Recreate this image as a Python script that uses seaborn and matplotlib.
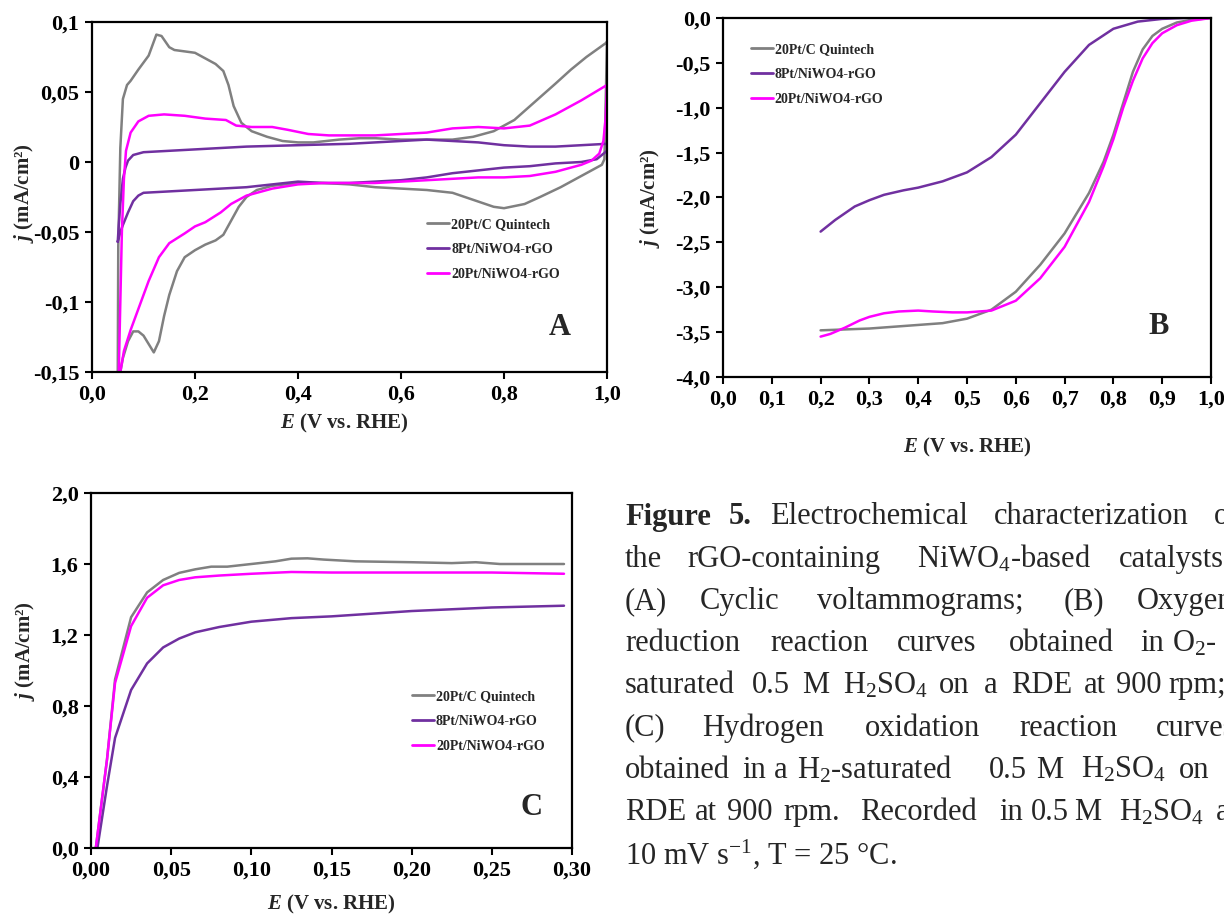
import numpy as np
import pandas as pd
import matplotlib
matplotlib.use("Agg")
import matplotlib.pyplot as plt
import seaborn as sns

# ---------------- data ----------------
series_names = ["20Pt/C Quintech", "8Pt/NiWO4-rGO", "20Pt/NiWO4-rGO"]
series_colors = ["#808080", "#7030A0", "#FF00FF"]

# Panel A: cyclic voltammograms (anodic branch then cathodic branch)
cv_gray_x = [0.05, 0.051, 0.055, 0.06, 0.068, 0.075, 0.09, 0.11, 0.125, 0.135, 0.15, 0.16, 0.18, 0.2, 0.22, 0.24,
             0.255, 0.265, 0.275, 0.29, 0.31, 0.34, 0.37, 0.4, 0.43, 0.48, 0.52, 0.55, 0.6, 0.65, 0.7, 0.74,
             0.78, 0.82, 0.86, 0.9, 0.93, 0.96, 0.998, 1.0,
             0.995, 0.99, 0.97, 0.94, 0.91, 0.87, 0.84, 0.8, 0.78, 0.74, 0.7, 0.65, 0.6, 0.55, 0.5, 0.45, 0.4,
             0.35, 0.32, 0.3, 0.285, 0.27, 0.255, 0.24, 0.22, 0.2, 0.18, 0.165, 0.15, 0.14, 0.13, 0.12, 0.11,
             0.1, 0.09, 0.08, 0.07, 0.06, 0.055]
cv_gray_y = [-0.15, -0.06, 0.01, 0.045, 0.055, 0.058, 0.066, 0.076, 0.091, 0.090, 0.082, 0.080, 0.079, 0.078, 0.074, 0.070,
             0.065, 0.055, 0.040, 0.028, 0.022, 0.018, 0.015, 0.014, 0.014, 0.016, 0.017, 0.017, 0.016, 0.016, 0.016, 0.018,
             0.022, 0.030, 0.043, 0.056, 0.066, 0.075, 0.085, 0.086,
             0.002, -0.002, -0.006, -0.012, -0.018, -0.025, -0.030, -0.033, -0.032, -0.027, -0.022, -0.020, -0.019, -0.018, -0.016, -0.015, -0.015,
             -0.017, -0.020, -0.025, -0.032, -0.042, -0.052, -0.056, -0.059, -0.063, -0.068, -0.078, -0.095, -0.110, -0.128, -0.136, -0.130,
             -0.124, -0.121, -0.121, -0.128, -0.140, -0.150]

cv_purple_x = [0.05, 0.052, 0.055, 0.06, 0.065, 0.07, 0.08, 0.1, 0.15, 0.2, 0.3, 0.4, 0.5, 0.6, 0.65, 0.7, 0.75, 0.8,
               0.85, 0.9, 0.95, 1.0,
               1.0, 0.98, 0.95, 0.9, 0.85, 0.8, 0.75, 0.7, 0.65, 0.6, 0.55, 0.5, 0.45, 0.4, 0.35, 0.3, 0.25, 0.2,
               0.15, 0.1, 0.09, 0.08, 0.07, 0.06, 0.055, 0.05]
cv_purple_y = [-0.057, -0.045, -0.030, -0.012, -0.004, 0.001, 0.005, 0.007, 0.008, 0.009, 0.011, 0.012, 0.013, 0.015, 0.016, 0.015, 0.014, 0.012,
               0.011, 0.011, 0.012, 0.013,
               0.008, 0.002, 0.000, -0.001, -0.003, -0.004, -0.006, -0.008, -0.011, -0.013, -0.014, -0.015, -0.015, -0.014, -0.016, -0.018, -0.019, -0.020,
               -0.021, -0.022, -0.024, -0.028, -0.036, -0.045, -0.050, -0.057]

cv_magenta_x = [0.052, 0.055, 0.058, 0.062, 0.066, 0.075, 0.09, 0.11, 0.14, 0.18, 0.22, 0.26, 0.28, 0.31, 0.35, 0.38,
                0.42, 0.46, 0.5, 0.55, 0.6, 0.65, 0.7, 0.75, 0.8, 0.85, 0.9, 0.95, 1.0,
                0.997, 0.993, 0.985, 0.97, 0.95, 0.93, 0.9, 0.85, 0.8, 0.75, 0.7, 0.65, 0.6, 0.55, 0.5, 0.45, 0.4,
                0.35, 0.3, 0.27, 0.25, 0.22, 0.2, 0.18, 0.15, 0.13, 0.11, 0.09, 0.075, 0.062, 0.055]
cv_magenta_y = [-0.150, -0.100, -0.050, -0.012, 0.008, 0.021, 0.029, 0.033, 0.034, 0.033, 0.031, 0.030, 0.026, 0.025, 0.025, 0.023,
                0.020, 0.019, 0.019, 0.019, 0.020, 0.021, 0.024, 0.025, 0.024, 0.026, 0.034, 0.044, 0.055,
                0.030, 0.015, 0.006, 0.001, -0.002, -0.004, -0.007, -0.010, -0.011, -0.011, -0.012, -0.013, -0.014, -0.015, -0.015, -0.015, -0.016,
                -0.019, -0.024, -0.030, -0.036, -0.043, -0.046, -0.051, -0.058, -0.068, -0.085, -0.105, -0.120, -0.135, -0.150]

# Panel B: ORR polarisation curves
orr_gray_x = [0.2, 0.25, 0.3, 0.35, 0.4, 0.45, 0.5, 0.55, 0.6, 0.65, 0.7, 0.75, 0.78, 0.8, 0.82, 0.84, 0.86, 0.88, 0.9,
              0.93, 0.96, 1.0]
orr_gray_y = [-3.48, -3.47, -3.46, -3.44, -3.42, -3.40, -3.35, -3.25, -3.05, -2.75, -2.40, -1.95, -1.60, -1.30, -0.95, -0.60,
              -0.35, -0.20, -0.12, -0.05, -0.02, 0.0]
orr_purple_x = [0.2, 0.23, 0.27, 0.3, 0.33, 0.37, 0.4, 0.45, 0.5, 0.55, 0.6, 0.65, 0.7, 0.75, 0.8, 0.85, 0.9, 0.95, 1.0]
orr_purple_y = [-2.38, -2.25, -2.10, -2.03, -1.97, -1.92, -1.89, -1.82, -1.72, -1.55, -1.30, -0.95, -0.60, -0.30, -0.12,
                -0.04, -0.01, 0.0, 0.0]
orr_magenta_x = [0.2, 0.22, 0.25, 0.28, 0.3, 0.33, 0.36, 0.4, 0.43, 0.47, 0.5, 0.55, 0.6, 0.65, 0.7, 0.75, 0.78, 0.8, 0.82,
                 0.84, 0.86, 0.88, 0.9, 0.93, 0.96, 1.0]
orr_magenta_y = [-3.55, -3.52, -3.45, -3.37, -3.33, -3.29, -3.27, -3.26, -3.27, -3.28, -3.28, -3.26, -3.15, -2.90, -2.55,
                 -2.05, -1.65, -1.35, -1.00, -0.70, -0.45, -0.28, -0.17, -0.08, -0.03, 0.0]

# Panel C: HOR curves
hor_gray_x = [0.003, 0.01, 0.015, 0.025, 0.035, 0.045, 0.055, 0.065, 0.075, 0.085, 0.1, 0.115, 0.125, 0.135, 0.145, 0.165,
              0.2, 0.225, 0.24, 0.255, 0.295]
hor_gray_y = [0.0, 0.5, 0.95, 1.30, 1.44, 1.51, 1.55, 1.57, 1.585, 1.585, 1.60, 1.615, 1.63, 1.632, 1.625, 1.615,
              1.61, 1.605, 1.61, 1.60, 1.60]
hor_purple_x = [0.004, 0.01, 0.015, 0.025, 0.035, 0.045, 0.055, 0.065, 0.08, 0.1, 0.125, 0.15, 0.175, 0.2, 0.225, 0.25, 0.295]
hor_purple_y = [0.0, 0.35, 0.62, 0.89, 1.04, 1.13, 1.18, 1.215, 1.245, 1.275, 1.295, 1.305, 1.32, 1.335, 1.345, 1.355, 1.365]
hor_magenta_x = [0.003, 0.01, 0.015, 0.025, 0.035, 0.045, 0.055, 0.065, 0.08, 0.1, 0.125, 0.15, 0.2, 0.25, 0.295]
hor_magenta_y = [0.0, 0.5, 0.93, 1.25, 1.41, 1.48, 1.51, 1.525, 1.535, 1.545, 1.555, 1.552, 1.552, 1.552, 1.545]

# tick values / labels
a_xticks = [0.0, 0.2, 0.4, 0.6, 0.8, 1.0]
a_xlabels = ["0,0", "0,2", "0,4", "0,6", "0,8", "1,0"]
a_yticks = [-0.15, -0.10, -0.05, 0.0, 0.05, 0.10]
a_ylabels = ["-0,15", "-0,1", "-0,05", "0", "0,05", "0,1"]
b_xticks = [0.0, 0.1, 0.2, 0.3, 0.4, 0.5, 0.6, 0.7, 0.8, 0.9, 1.0]
b_xlabels = ["0,0", "0,1", "0,2", "0,3", "0,4", "0,5", "0,6", "0,7", "0,8", "0,9", "1,0"]
b_yticks = [-4.0, -3.5, -3.0, -2.5, -2.0, -1.5, -1.0, -0.5, 0.0]
b_ylabels = ["-4,0", "-3,5", "-3,0", "-2,5", "-2,0", "-1,5", "-1,0", "-0,5", "0,0"]
c_xticks = [0.0, 0.05, 0.10, 0.15, 0.20, 0.25, 0.30]
c_xlabels = ["0,00", "0,05", "0,10", "0,15", "0,20", "0,25", "0,30"]
c_yticks = [0.0, 0.4, 0.8, 1.2, 1.6, 2.0]
c_ylabels = ["0,0", "0,4", "0,8", "1,2", "1,6", "2,0"]

# ---------------- style ----------------
sns.set_theme(style="ticks")
plt.rcParams["font.family"] = ["Liberation Serif", "DejaVu Serif"]
plt.rcParams["mathtext.fontset"] = "custom"
plt.rcParams["mathtext.rm"] = "Liberation Serif"
plt.rcParams["mathtext.it"] = "Liberation Serif:italic"
plt.rcParams["mathtext.bf"] = "Liberation Serif:bold"
plt.rcParams["mathtext.bfit"] = "Liberation Serif:italic:bold"

W, H = 1224, 914
fig = plt.figure(figsize=(W / 100, H / 100), dpi=100)
fig.patch.set_facecolor("white")


def px_axes(l, t, r, b):
    return fig.add_axes([l / W, 1 - b / H, (r - l) / W, (b - t) / H])


def make_df(xs, ys):
    rows = []
    for name, x, y in zip(series_names, xs, ys):
        for i, (xx, yy) in enumerate(zip(x, y)):
            rows.append({"E": xx, "j": yy, "series": name, "order": i})
    return pd.DataFrame(rows)


palette = dict(zip(series_names, series_colors))
tick_font = dict(family="Liberation Serif", weight="bold", size=16)


def style_axes(ax, xt, xl, yt, yl, xlim, ylim):
    ax.set_xlim(*xlim)
    ax.set_ylim(*ylim)
    ax.set_xticks(xt)
    ax.set_xticklabels(xl, fontdict=tick_font)
    ax.set_yticks(yt)
    ax.set_yticklabels(yl, fontdict=tick_font)
    for s in ax.spines.values():
        s.set_visible(True)
        s.set_linewidth(1.6)
        s.set_color("black")
    ax.tick_params(direction="out", length=5, width=1.5, colors="black", pad=4)
    ax.set_facecolor("white")


def draw(ax, xs, ys):
    df = make_df(xs, ys)
    sns.lineplot(data=df, x="E", y="j", hue="series", hue_order=series_names, palette=palette,
                 sort=False, estimator=None, units="series", lw=1.8, ax=ax, legend=True)


def labels(ax, xpos, ypos):
    ax.set_xlabel(r"$\mathbfit{E}$ (V vs. RHE)", fontsize=15, fontweight="bold", va="center")
    ax.set_ylabel(r"$\mathbfit{j}$ (mA/cm²)", fontsize=15, fontweight="bold", va="center")
    ax.xaxis.set_label_coords(*xpos)
    ax.yaxis.set_label_coords(*ypos)


def legend(ax, anchor):
    leg = ax.legend(loc="upper left", bbox_to_anchor=anchor, frameon=False,
                    prop=dict(family="Liberation Serif", weight="bold", size=10),
                    handlelength=1.6, handletextpad=0.15, labelspacing=0.85, borderaxespad=0)
    for ln in leg.get_lines():
        ln.set_linewidth(2.0)


# Panel A
axA = px_axes(92, 22, 607, 372)
draw(axA, [cv_gray_x, cv_purple_x, cv_magenta_x], [cv_gray_y, cv_purple_y, cv_magenta_y])
style_axes(axA, a_xticks, a_xlabels, a_yticks, a_ylabels, (0, 1.0), (-0.15, 0.10))
labels(axA, (0.49, -0.146), (-0.132, 0.511))
legend(axA, (0.64, 0.455))
axA.text(0.909, 0.127, "A", transform=axA.transAxes, ha="center", va="center", fontsize=22, fontweight="bold")

# Panel B
axB = px_axes(723, 18, 1211, 377)
draw(axB, [orr_gray_x, orr_purple_x, orr_magenta_x], [orr_gray_y, orr_purple_y, orr_magenta_y])
style_axes(axB, b_xticks, b_xlabels, b_yticks, b_ylabels, (0, 1.0), (-4.0, 0.0))
labels(axB, (0.50, -0.195), (-0.15, 0.499))
legend(axB, (0.045, 0.945))
axB.text(0.893, 0.142, "B", transform=axB.transAxes, ha="center", va="center", fontsize=22, fontweight="bold")

# Panel C
axC = px_axes(91, 493, 572, 848)
draw(axC, [hor_gray_x, hor_purple_x, hor_magenta_x], [hor_gray_y, hor_purple_y, hor_magenta_y])
style_axes(axC, c_xticks, c_xlabels, c_yticks, c_ylabels, (0, 0.30), (0.0, 2.0))
labels(axC, (0.50, -0.16), (-0.137, 0.555))
legend(axC, (0.655, 0.46))
axC.text(0.915, 0.115, "C", transform=axC.transAxes, ha="center", va="center", fontsize=22, fontweight="bold")

# Caption (justified, clipped at right edge like the reference)
caption_lines = [
    [(625, "Figure", True), (729, "5.", True), (770, "Electrochemical", False),
     (994, "characterization", False), (1214, "of", False)],
    [(625, "the", False), (687, "rGO-containing", False), (917, "NiWO$_4$-based", False), (1119, "catalysts:", False)],
    [(625, "(A)", False), (700, "Cyclic", False), (817, "voltammograms;", False), (1064, "(B)", False),
     (1137, "Oxygen", False)],
    [(625, "reduction", False), (770, "reaction", False), (897, "curves", False), (1009, "obtained", False),
     (1140, "in", False), (1172, "O$_2$-", False)],
    [(625, "saturated", False), (752, "0.5", False), (802, "M", False), (843, "H$_2$SO$_4$", False), (939, "on", False),
     (984, "a", False), (1011, "RDE", False), (1084, "at", False), (1116, "900", False), (1168, "rpm;", False)],
    [(625, "(C)", False), (702, "Hydrogen", False), (865, "oxidation", False), (1019, "reaction", False),
     (1156, "curves", False)],
    [(625, "obtained", False), (742, "in", False), (774, "a", False), (797, "H$_2$-saturated", False), (989, "0.5", False),
     (1036, "M", False), (1081, "H$_2$SO$_4$", False), (1179, "on", False)],
    [(625, "RDE", False), (695, "at", False), (727, "900", False), (783, "rpm.", False), (860, "Recorded", False),
     (999, "in", False), (1031, "0.5", False), (1074, "M", False), (1119, "H$_2$SO$_4$", False), (1216, "at", False)],
    [(625, "10 mV s$^{\\mathrm{-1}}$, T = 25 °C.", False)],
]
y0, dy = 517, 42.2
for i, line in enumerate(caption_lines):
    y = y0 + i * dy
    for x, word, bold in line:
        fig.text(x / W, 1 - y / H, word, ha="left", va="center", fontsize=22,
                 fontweight="bold" if bold else "normal", family="Liberation Serif")

fig.savefig("out.png", dpi=100, facecolor="white")
